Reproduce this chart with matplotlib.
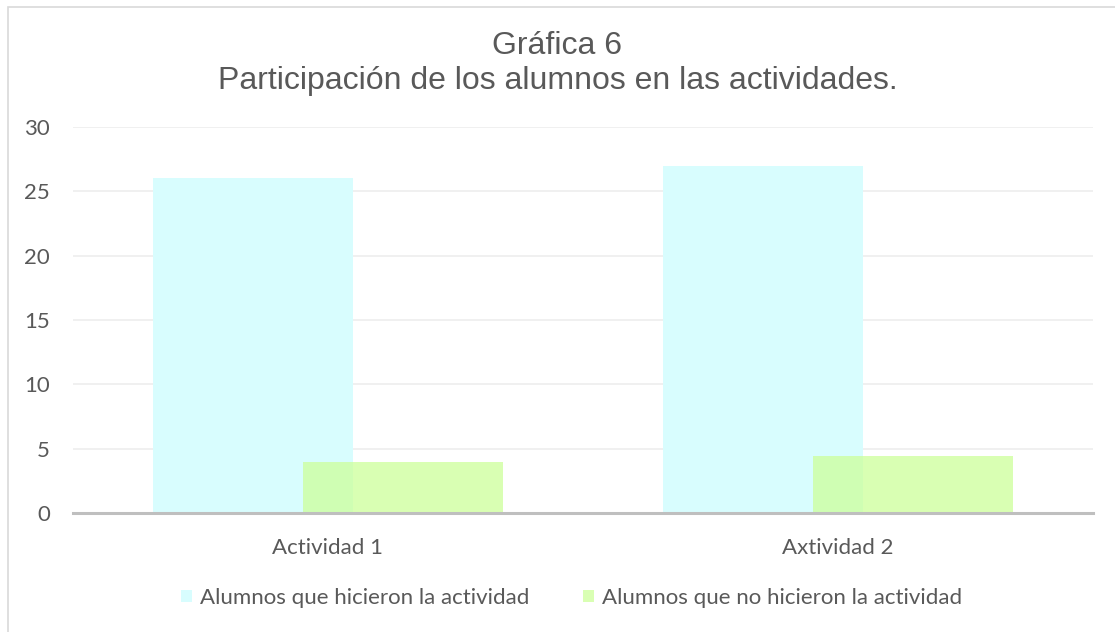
import matplotlib
matplotlib.use("Agg")
import matplotlib.pyplot as plt
from matplotlib.patches import Rectangle
import numpy as np

categories = ["Actividad 1", "Axtividad 2"]
series_names = ["Alumnos que hicieron la actividad", "Alumnos que no hicieron la actividad"]
hicieron = [26, 27]
no_hicieron = [4, 4.4]
yticks = [0, 5, 10, 15, 20, 25, 30]

TXT = "#595959"
fig = plt.figure(figsize=(11.15, 6.32), dpi=100)
fig.patches.append(Rectangle((7.5/1115, -0.1), 1.2, 1.1 - 6.5/632, transform=fig.transFigure,
                             fill=False, edgecolor="#D9D9D9", linewidth=1.2))

ax = fig.add_axes([73/1115, 1 - 513/632, 1020/1115, 386/632])
x = np.arange(len(categories))
w = 0.392
off = 0.147
ax.bar(x - off, hicieron, width=w, color="#D8FDFE", label=series_names[0], zorder=2)
ax.bar(x + off, no_hicieron, width=w, color="#CDFF9A", alpha=0.744, label=series_names[1], zorder=3)

ax.set_xlim(-0.5, 1.5)
ax.set_ylim(0, 30)
ax.set_yticks(yticks)
ax.set_xticks(x)
ax.set_xticklabels(categories)
ax.grid(axis="y", color="#EEEEEE", linewidth=1.2, zorder=0)
ax.set_axisbelow(True)
for s in ["top", "right", "left"]:
    ax.spines[s].set_visible(False)
ax.spines["bottom"].set_color("#BFBFBF")
ax.spines["bottom"].set_linewidth(2.2)
ax.spines["bottom"].set_zorder(4)
ax.tick_params(axis="both", length=0, colors=TXT, labelsize=16)
ax.tick_params(axis="y", pad=16.5)
ax.tick_params(axis="x", pad=18)
for lab in ax.get_xticklabels() + ax.get_yticklabels():
    lab.set_fontfamily("Lato")

fig.text(0.5, 1 - 53.5/632, "Gráfica 6", ha="center", va="baseline", fontsize=23,
         color=TXT, family="Liberation Sans")
fig.text(0.5, 1 - 89.5/632, "Participación de los alumnos en las actividades.", ha="center",
         va="baseline", fontsize=23, color=TXT, family="Liberation Sans")

leg = fig.legend(loc="center", bbox_to_anchor=(571.5/1115, 1 - 598/632), ncol=2, frameon=False,
                 prop={"family": "Lato", "size": 16}, handlelength=0.5, handleheight=0.5,
                 handletextpad=0.36, columnspacing=2.4)
for t in leg.get_texts():
    t.set_color(TXT)

fig.savefig("out.png", dpi=100)
